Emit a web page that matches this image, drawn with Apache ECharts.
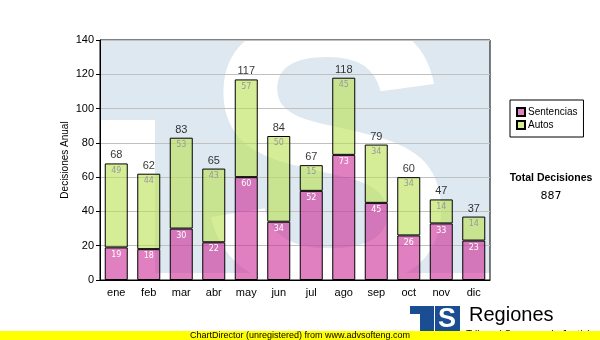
<!DOCTYPE html>
<html>
<head>
<meta charset="utf-8">
<script src="https://cdn.jsdelivr.net/npm/echarts@6/dist/echarts.min.js"></script>
<style>
  html, body { margin: 0; padding: 0; background: #fff; }
  #chart { width: 600px; height: 340px; }
</style>
</head>
<body>
<div id="chart"></div>
<script>
// Monthly decisions, split by type
const months = ['ene', 'feb', 'mar', 'abr', 'may', 'jun', 'jul', 'ago', 'sep', 'oct', 'nov', 'dic'];
const sentencias = [19, 18, 30, 22, 60, 34, 52, 73, 45, 26, 33, 23];
const autos = [49, 44, 53, 43, 57, 50, 15, 45, 34, 34, 14, 14];
const yMin = 0, yMax = 140, yStep = 20;

const totals = months.map((m, i) => sentencias[i] + autos[i]);
const grandTotal = totals.reduce((a, b) => a + b, 0);

const SANS = '"Liberation Sans", Arial, sans-serif';
const VERDANA = '"DejaVu Sans", Verdana, sans-serif';
const PINK = 'rgba(203,43,150,0.6)';
const GREEN = 'rgba(185,225,82,0.6)';
const WATERMARK = '#dee8f1';
const LOGO_BLUE = '#1b4d92';

const chart = echarts.init(document.getElementById('chart'), null, { renderer: 'canvas' });

chart.setOption({
  animation: false,
  backgroundColor: '#fff',
  grid: {
    left: 100, top: 40, right: 110, bottom: 60,
    show: true, borderColor: '#000', borderWidth: 1, backgroundColor: 'transparent'
  },
  legend: {
    orient: 'vertical',
    left: 510, top: 100,
    data: ['Sentencias', 'Autos'],
    icon: 'rect',
    borderColor: '#000', borderWidth: 1, borderRadius: 0,
    backgroundColor: '#fff',
    padding: [7, 6, 7, 6],
    itemWidth: 8, itemHeight: 8, itemGap: 3,
    textStyle: { fontFamily: SANS, fontSize: 10, color: '#000', padding: [0, 0, 0, -2] }
  },
  xAxis: {
    type: 'category',
    data: months,
    axisLine: { lineStyle: { color: '#000', width: 1 } },
    axisTick: { alignWithLabel: true, length: 3, lineStyle: { color: '#000' } },
    axisLabel: { color: '#000', fontFamily: SANS, fontSize: 11, margin: 7 },
    splitLine: { show: false }
  },
  yAxis: {
    type: 'value',
    min: yMin, max: yMax, interval: yStep,
    name: 'Decisiones Anual',
    nameLocation: 'middle',
    nameGap: 30,
    nameMoveOverlap: false,
    nameTextStyle: { color: '#000', fontFamily: SANS, fontSize: 10 },
    axisLine: { show: true, lineStyle: { color: '#000', width: 1 } },
    axisTick: { show: true, length: 4, lineStyle: { color: '#000' } },
    axisLabel: { color: '#000', fontFamily: SANS, fontSize: 11, margin: 6 },
    splitLine: { lineStyle: { color: '#c0c0c0', width: 1 } }
  },
  series: [
    {
      name: 'Sentencias',
      type: 'bar',
      stack: 'total',
      barWidth: 23,
      data: sentencias,
      itemStyle: { color: PINK, borderColor: '#000', borderWidth: 1 },
      label: {
        show: true, position: 'insideTop', distance: 3,
        color: '#fff', fontFamily: VERDANA, fontSize: 8
      }
    },
    {
      name: 'Autos',
      type: 'bar',
      stack: 'total',
      barWidth: 23,
      data: autos,
      itemStyle: { color: GREEN, borderColor: '#000', borderWidth: 1 },
      label: {
        show: true, position: 'insideTop', distance: 3,
        color: '#999', fontFamily: VERDANA, fontSize: 8
      }
    },
    {
      name: 'Total',
      type: 'scatter',
      data: totals,
      symbolSize: 1,
      itemStyle: { color: 'rgba(0,0,0,0)' },
      label: {
        show: true, position: 'top', distance: 2,
        color: '#000', fontFamily: SANS, fontSize: 11
      },
      z: 5
    }
  ],
  graphic: [
    // faint logo watermark behind the plot
    { type: 'rect', z: -10, shape: { x: 100, y: 40, width: 390, height: 233 }, style: { fill: WATERMARK } },
    { type: 'rect', z: -9, shape: { x: 100, y: 120, width: 55, height: 153 }, style: { fill: '#fff' } },
    { type: 'text', z: -8, x: 200, y: -12,
      style: { text: 'S', font: 'bold 384px "Liberation Sans", Arial, sans-serif', fill: '#fff', align: 'left', verticalAlign: 'top' } },

    // summary box on the right
    { type: 'text', x: 551, y: 178,
      style: { text: 'Total Decisiones', font: 'bold 10.5px "Liberation Sans", Arial, sans-serif', fill: '#000', align: 'center', verticalAlign: 'middle' } },
    { type: 'text', x: 551, y: 196,
      style: { text: String(grandTotal), font: '11px "DejaVu Sans", Verdana, sans-serif', fill: '#000', align: 'center', verticalAlign: 'middle' } },

    // corner logo
    { type: 'rect', shape: { x: 410, y: 306, width: 24, height: 8 }, style: { fill: LOGO_BLUE } },
    { type: 'rect', shape: { x: 420, y: 306, width: 14, height: 26 }, style: { fill: LOGO_BLUE } },
    { type: 'rect', shape: { x: 435, y: 306, width: 25, height: 26 }, style: { fill: LOGO_BLUE } },
    { type: 'text', x: 447, y: 320,
      style: { text: 'S', font: 'bold 27px "Liberation Sans", Arial, sans-serif', fill: '#fff', align: 'center', verticalAlign: 'middle' } },
    { type: 'text', x: 469, y: 315,
      style: { text: 'Regiones', font: '20px "Liberation Sans", Arial, sans-serif', fill: '#000', align: 'left', verticalAlign: 'middle' } },
    { type: 'text', x: 466, y: 330,
      style: { text: 'Tribunal Supremo de Justicia', font: '10px "Liberation Sans", Arial, sans-serif', fill: '#000', align: 'left', verticalAlign: 'top' } },

    // footer strip
    { type: 'rect', z: 20, shape: { x: 0, y: 331, width: 600, height: 9 }, style: { fill: '#ffff00' } },
    { type: 'text', z: 21, x: 300, y: 335.5,
      style: { text: 'ChartDirector (unregistered) from www.advsofteng.com', font: '9px "Liberation Sans", Arial, sans-serif', fill: '#000', align: 'center', verticalAlign: 'middle' } }
  ]
});
</script>
</body>
</html>
